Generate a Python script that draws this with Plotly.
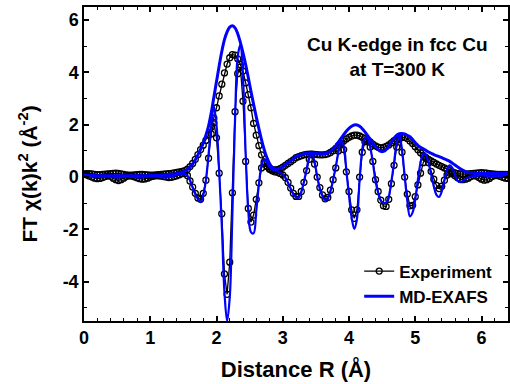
import plotly.graph_objects as go

# Distance grid (Å)
R = [round(i * 0.04, 2) for i in range(161)]

# Experiment: |FT| and Im FT
exp_mag = [
    0.12, 0.13, 0.13, 0.12, 0.10, 0.09, 0.09, 0.10, 0.11, 0.12,
    0.13, 0.14, 0.15, 0.14, 0.12, 0.10, 0.08, 0.07, 0.07, 0.08,
    0.09, 0.10, 0.10, 0.09, 0.08, 0.07, 0.07, 0.08, 0.09, 0.10,
    0.11, 0.12, 0.13, 0.14, 0.16, 0.18, 0.20, 0.22, 0.25, 0.30,
    0.40, 0.52, 0.68, 0.86, 1.05, 1.22, 1.40, 1.62, 1.90, 2.25,
    2.65, 3.10, 3.55, 3.98, 4.32, 4.56, 4.68, 4.66, 4.52, 4.30,
    4.05, 3.60, 3.15, 2.65, 2.05, 1.60, 1.20, 0.85, 0.58, 0.42,
    0.33, 0.28, 0.27, 0.28, 0.32, 0.38, 0.45, 0.52, 0.59, 0.66,
    0.74, 0.78, 0.82, 0.85, 0.87, 0.88, 0.88, 0.87, 0.86, 0.85,
    0.85, 0.86, 0.89, 0.94, 1.01, 1.10, 1.20, 1.30, 1.38, 1.46,
    1.52, 1.57, 1.60, 1.60, 1.57, 1.52, 1.47, 1.41, 1.34, 1.26,
    1.19, 1.14, 1.12, 1.13, 1.17, 1.23, 1.31, 1.39, 1.46, 1.51,
    1.53, 1.52, 1.47, 1.38, 1.28, 1.16, 1.04, 0.93, 0.83, 0.75,
    0.68, 0.62, 0.56, 0.50, 0.45, 0.40, 0.35, 0.30, 0.25, 0.20,
    0.16, 0.13, 0.12, 0.11, 0.11, 0.12, 0.13, 0.14, 0.15, 0.16,
    0.17, 0.16, 0.15, 0.13, 0.12, 0.11, 0.10, 0.10, 0.10, 0.10,
    0.10,
]
exp_im = [
    0.10, 0.08, 0.04, 0.00, -0.04, -0.06, -0.05, -0.02, 0.02, 0.05,
    0.03, -0.04, -0.10, -0.13, -0.10, -0.04, 0.02, 0.05, 0.04, 0.01,
    -0.03, -0.06, -0.08, -0.07, -0.04, 0.00, 0.03, 0.05, 0.05, 0.04,
    0.02, 0.00, -0.02, -0.01, 0.02, 0.05, 0.09, 0.13, 0.14, 0.06,
    -0.15, -0.38, -0.62, -0.80, -0.85, -0.62, -0.12, 0.72, 1.65, 2.08,
    1.50, 0.15, -1.40, -3.70, -4.48, -3.25, -0.60, 2.50, 3.95, 4.20,
    2.90, 0.60, -1.20, -1.72, -1.45, -0.85, -0.22, 0.35, 0.52, 0.40,
    0.30, 0.24, 0.20, 0.18, 0.14, 0.08, -0.02, -0.20, -0.42, -0.62,
    -0.74, -0.74, -0.55, -0.20, 0.25, 0.68, 0.87, 0.50, 0.00, -0.40,
    -0.68, -0.83, -0.78, -0.50, -0.10, 0.35, 1.00, 1.30, 1.05, 0.20,
    -0.55, -1.25, -1.58, -1.25, 0.00, 0.95, 1.35, 1.40, 1.15, 0.60,
    -0.10, -0.55, -0.88, -1.10, -1.12, -0.85, -0.25, 0.45, 1.15, 1.45,
    0.95, 0.00, -0.65, -1.10, -1.08, -0.75, -0.30, 0.15, 0.55, 0.72,
    0.55, 0.22, -0.08, -0.32, -0.44, -0.35, -0.12, 0.08, 0.15, 0.12,
    0.05, -0.03, -0.08, -0.10, -0.08, -0.04, 0.02, 0.06, 0.04, -0.02,
    -0.08, -0.12, -0.10, -0.05, 0.02, 0.06, 0.06, 0.03, -0.01, -0.04,
    -0.05,
]

# MD-EXAFS: |FT| and Im FT
md_mag = [
    0.07, 0.07, 0.06, 0.06, 0.06, 0.05, 0.05, 0.05, 0.05, 0.05,
    0.05, 0.05, 0.05, 0.05, 0.05, 0.05, 0.05, 0.05, 0.05, 0.05,
    0.05, 0.05, 0.05, 0.05, 0.05, 0.06, 0.06, 0.06, 0.07, 0.07,
    0.08, 0.09, 0.10, 0.11, 0.12, 0.14, 0.16, 0.19, 0.23, 0.29,
    0.38, 0.50, 0.66, 0.85, 1.06, 1.30, 1.60, 1.95, 2.45, 3.05,
    3.65, 4.25, 4.80, 5.25, 5.55, 5.73, 5.78, 5.70, 5.48, 5.15,
    4.75, 4.30, 3.80, 3.28, 2.78, 2.30, 1.85, 1.42, 1.05, 0.75,
    0.52, 0.38, 0.32, 0.31, 0.34, 0.40, 0.47, 0.55, 0.62, 0.69,
    0.79, 0.82, 0.86, 0.89, 0.91, 0.92, 0.92, 0.91, 0.90, 0.89,
    0.89, 0.90, 0.93, 0.99, 1.08, 1.20, 1.34, 1.48, 1.62, 1.75,
    1.86, 1.94, 1.99, 1.99, 1.94, 1.85, 1.73, 1.59, 1.45, 1.30,
    1.17, 1.05, 0.98, 0.98, 1.05, 1.18, 1.33, 1.48, 1.60, 1.66,
    1.67, 1.65, 1.60, 1.54, 1.44, 1.31, 1.21, 1.14, 1.08, 1.02,
    0.96, 0.91, 0.86, 0.82, 0.78, 0.74, 0.70, 0.65, 0.60, 0.53,
    0.46, 0.39, 0.32, 0.26, 0.21, 0.18, 0.16, 0.15, 0.14, 0.14,
    0.14, 0.14, 0.14, 0.14, 0.14, 0.14, 0.14, 0.14, 0.14, 0.14,
    0.14,
]
md_im = [
    0.03, 0.03, 0.02, 0.01, 0.00, 0.00, 0.01, 0.02, 0.02, 0.02,
    0.01, 0.00, -0.01, -0.01, 0.00, 0.01, 0.02, 0.02, 0.01, 0.00,
    -0.01, -0.01, 0.00, 0.01, 0.02, 0.03, 0.03, 0.02, 0.01, 0.00,
    -0.01, -0.01, 0.00, 0.02, 0.05, 0.08, 0.11, 0.13, 0.12, 0.06,
    -0.12, -0.40, -0.66, -0.84, -0.96, -0.70, -0.12, 0.85, 1.95, 2.70,
    2.00, 0.25, -1.85, -4.40, -5.50, -4.60, -1.40, 2.20, 4.60, 5.05,
    3.80, 0.90, -1.30, -2.10, -2.15, -1.30, -0.30, 0.45, 0.68, 0.55,
    0.40, 0.30, 0.25, 0.22, 0.17, 0.10, -0.02, -0.22, -0.45, -0.66,
    -0.78, -0.78, -0.57, -0.18, 0.30, 0.75, 0.90, 0.58, 0.03, -0.45,
    -0.72, -0.88, -0.83, -0.55, -0.10, 0.40, 0.95, 1.38, 1.20, 0.25,
    -0.70, -1.55, -1.98, -1.60, -0.10, 1.05, 1.50, 1.48, 1.15, 0.55,
    -0.15, -0.60, -0.90, -0.98, -0.98, -0.75, -0.15, 0.55, 1.30, 1.60,
    1.05, 0.05, -0.90, -1.50, -1.35, -0.85, -0.10, 0.55, 0.90, 0.85,
    0.55, 0.10, -0.35, -0.68, -0.76, -0.55, -0.12, 0.28, 0.45, 0.35,
    0.08, -0.14, -0.19, -0.15, -0.08, -0.02, 0.02, 0.04, 0.05, 0.06,
    0.07, 0.06, 0.04, 0.02, 0.01, 0.02, 0.04, 0.05, 0.05, 0.04,
    0.03,
]

x_tick_vals = [0, 1, 2, 3, 4, 5, 6]
x_tick_labels = ["0", "1", "2", "3", "4", "5", "6"]
y_tick_vals = [-4, -2, 0, 2, 4, 6]
y_tick_labels = ["-4", "-2", "0", "2", "4", "6"]

FONT = "Liberation Sans, Arial, sans-serif"
BLUE = "#0000ff"

fig = go.Figure()
exp_marker = dict(symbol="circle-open", size=6, color="black", line=dict(width=1.3, color="black"))
fig.add_trace(go.Scatter(x=R, y=exp_mag, mode="lines+markers", name="Experiment",
                         legendgroup="exp", line=dict(color="black", width=1.3),
                         marker=exp_marker))
fig.add_trace(go.Scatter(x=R, y=exp_im, mode="lines+markers", name="Experiment",
                         legendgroup="exp", showlegend=False,
                         line=dict(color="black", width=1.3), marker=exp_marker))
fig.add_trace(go.Scatter(x=R, y=md_mag, mode="lines", name="MD-EXAFS",
                         legendgroup="md", line=dict(color=BLUE, width=3, shape="spline")))
fig.add_trace(go.Scatter(x=R, y=md_im, mode="lines", name="MD-EXAFS",
                         legendgroup="md", showlegend=False,
                         line=dict(color=BLUE, width=2.2, shape="spline")))

axis_common = dict(
    showline=True, linecolor="black", linewidth=1.5, mirror="ticks",
    ticks="inside", ticklen=5, tickwidth=1.5, tickcolor="black",
    showgrid=False, zeroline=False,
    tickfont=dict(family=FONT, size=18, color="black", weight="bold"),
)

fig.update_layout(
    width=510, height=384,
    margin=dict(l=84, r=0, t=7, b=63),
    paper_bgcolor="white", plot_bgcolor="white",
    font=dict(family=FONT, color="black"),
    xaxis=dict(range=[0, 6.4], tickmode="array", tickvals=x_tick_vals, ticktext=x_tick_labels,
               minor=dict(dtick=0.2, tick0=0, ticks="inside", ticklen=3, tickwidth=1.2, tickcolor="black"),
               title=dict(text="Distance R (Å)", standoff=14,
                          font=dict(family=FONT, size=22, color="black", weight="bold")),
               **axis_common),
    yaxis=dict(range=[-5.5, 6.5], tickmode="array", tickvals=y_tick_vals, ticktext=y_tick_labels,
               minor=dict(dtick=1, tick0=0, ticks="inside", ticklen=3, tickwidth=1.2, tickcolor="black"),
               **axis_common),
    legend=dict(x=0.649, y=0.215, xanchor="left", yanchor="top",
                bgcolor="rgba(0,0,0,0)", borderwidth=0,
                font=dict(family=FONT, size=17, color="black", weight="bold"),
                tracegroupgap=0),
    annotations=[
        dict(text="Cu K-edge in fcc Cu<br>at T=300 K", x=0.74, y=0.842,
             xref="paper", yref="paper", xanchor="center", yanchor="middle",
             showarrow=False,
             font=dict(family=FONT, size=19, color="black", weight="bold")),
        dict(text="FT χ(k)k<sup>2</sup> (Å<sup>-2</sup>)", x=-0.131, y=0.468,
             xref="paper", yref="paper", xanchor="center", yanchor="middle",
             textangle=-90, showarrow=False,
             font=dict(family=FONT, size=21, color="black", weight="bold")),
    ],
)

fig.write_html("out.html")
